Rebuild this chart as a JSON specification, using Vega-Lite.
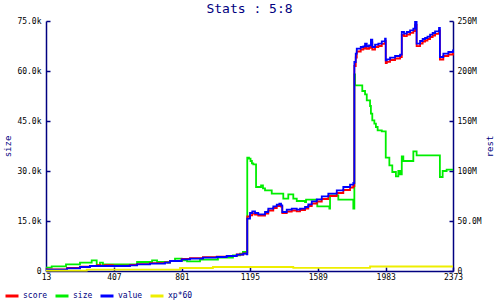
{
  "$schema": "https://vega.github.io/schema/vega-lite/v6.json",
  "width": 407,
  "height": 250,
  "autosize": {"type": "none"},
  "padding": {"left": 46, "top": 21, "right": 47, "bottom": 29},
  "background": "white",
  "title": {"text": "Stats : 5:8", "font": "DejaVu Sans Mono", "fontSize": 13, "fontWeight": "normal", "color": "#000080", "anchor": "middle", "offset": 1},
  "config": {
    "view": {"stroke": null},
    "axis": {"grid": false, "domainColor": "#000080", "domainWidth": 1.5, "tickColor": "#000080", "tickWidth": 1.5, "tickSize": -4, "labelFont": "DejaVu Sans Mono", "labelFontSize": 8, "labelColor": "#000000", "titleFont": "DejaVu Sans Mono", "titleFontSize": 9, "titleFontWeight": "normal", "titleColor": "#000080"},
    "legend": {"orient": "none", "legendX": -42, "legendY": 267, "direction": "horizontal", "columns": 4, "symbolType": "stroke", "symbolSize": 169, "symbolStrokeWidth": 3, "labelFont": "DejaVu Sans Mono", "labelFontSize": 8, "labelColor": "#000080", "labelOffset": 3, "columnPadding": 1, "title": null}
  },
  "datasets": {
    "size": [
      {"x":13,"v":1000},{"x":46,"v":1400},{"x":129,"v":2000},{"x":210,"v":2500},{"x":278,"v":3200},{"x":307,"v":1700},{"x":326,"v":2500},{"x":343,"v":2000},{"x":541,"v":2700},{"x":628,"v":3200},{"x":657,"v":2700},{"x":720,"v":2500},{"x":732,"v":3000},{"x":761,"v":3700},{"x":800,"v":3200},{"x":831,"v":2900},{"x":906,"v":3400},{"x":1010,"v":4000},{"x":1097,"v":4700},{"x":1138,"v":5200},{"x":1155,"v":5700},{"x":1180,"v":34000},{"x":1190,"v":33700},{"x":1199,"v":33000},{"x":1207,"v":32300},{"x":1215,"v":32000},{"x":1231,"v":25200},{"x":1260,"v":25700},{"x":1271,"v":24800},{"x":1283,"v":24200},{"x":1322,"v":23200},{"x":1389,"v":21700},{"x":1418,"v":23000},{"x":1447,"v":21700},{"x":1467,"v":21000},{"x":1515,"v":20700},{"x":1521,"v":21400},{"x":1583,"v":20400},{"x":1586,"v":19400},{"x":1656,"v":18700},{"x":1660,"v":22700},{"x":1708,"v":21400},{"x":1795,"v":18700},{"x":1801,"v":59000},{"x":1805,"v":55700},{"x":1847,"v":54000},{"x":1863,"v":53000},{"x":1873,"v":51200},{"x":1892,"v":49500},{"x":1897,"v":47200},{"x":1905,"v":45200},{"x":1917,"v":44200},{"x":1926,"v":43200},{"x":1936,"v":42200},{"x":1960,"v":41900},{"x":1983,"v":34000},{"x":2004,"v":31700},{"x":2021,"v":29700},{"x":2042,"v":28400},{"x":2056,"v":30000},{"x":2066,"v":29000},{"x":2076,"v":34400},{"x":2085,"v":33000},{"x":2143,"v":35900},{"x":2162,"v":34700},{"x":2297,"v":28200},{"x":2313,"v":30000},{"x":2336,"v":30400},{"x":2373,"v":30400}
    ],
    "rest": [
      {"s":"score","x":13,"v":1700000},{"s":"score","x":135,"v":3000000},{"s":"score","x":210,"v":4300000},{"s":"score","x":268,"v":5200000},{"s":"score","x":310,"v":5900000},{"s":"score","x":330,"v":5300000},{"s":"score","x":355,"v":5900000},{"s":"score","x":400,"v":5400000},{"s":"score","x":500,"v":6000000},{"s":"score","x":541,"v":6900000},{"s":"score","x":616,"v":7800000},{"s":"score","x":703,"v":8600000},{"s":"score","x":732,"v":10200000},{"s":"score","x":800,"v":12000000},{"s":"score","x":848,"v":12800000},{"s":"score","x":923,"v":13800000},{"s":"score","x":1003,"v":14300000},{"s":"score","x":1061,"v":15200000},{"s":"score","x":1119,"v":16500000},{"s":"score","x":1157,"v":17600000},{"s":"score","x":1177,"v":16900000},{"s":"score","x":1180,"v":54500000},{"s":"score","x":1196,"v":55700000},{"s":"score","x":1209,"v":57500000},{"s":"score","x":1225,"v":56500000},{"s":"score","x":1244,"v":55500000},{"s":"score","x":1283,"v":57500000},{"s":"score","x":1302,"v":60500000},{"s":"score","x":1331,"v":63000000},{"s":"score","x":1351,"v":65000000},{"s":"score","x":1366,"v":66000000},{"s":"score","x":1376,"v":64500000},{"s":"score","x":1383,"v":58000000},{"s":"score","x":1409,"v":59500000},{"s":"score","x":1438,"v":60500000},{"s":"score","x":1467,"v":59700000},{"s":"score","x":1486,"v":61000000},{"s":"score","x":1515,"v":62500000},{"s":"score","x":1534,"v":65000000},{"s":"score","x":1554,"v":67500000},{"s":"score","x":1583,"v":69500000},{"s":"score","x":1612,"v":72000000},{"s":"score","x":1650,"v":75000000},{"s":"score","x":1699,"v":78000000},{"s":"score","x":1737,"v":81000000},{"s":"score","x":1776,"v":83500000},{"s":"score","x":1795,"v":85000000},{"s":"score","x":1801,"v":205000000},{"s":"score","x":1809,"v":213500000},{"s":"score","x":1815,"v":219500000},{"s":"score","x":1838,"v":221500000},{"s":"score","x":1853,"v":222500000},{"s":"score","x":1863,"v":225000000},{"s":"score","x":1873,"v":222200000},{"s":"score","x":1886,"v":223200000},{"s":"score","x":1897,"v":228500000},{"s":"score","x":1905,"v":221500000},{"s":"score","x":1921,"v":224000000},{"s":"score","x":1940,"v":225000000},{"s":"score","x":1960,"v":227200000},{"s":"score","x":1979,"v":230000000},{"s":"score","x":1983,"v":208000000},{"s":"score","x":1989,"v":209200000},{"s":"score","x":2008,"v":211000000},{"s":"score","x":2037,"v":212500000},{"s":"score","x":2066,"v":214000000},{"s":"score","x":2076,"v":236000000},{"s":"score","x":2089,"v":234800000},{"s":"score","x":2105,"v":236500000},{"s":"score","x":2124,"v":238200000},{"s":"score","x":2143,"v":240000000},{"s":"score","x":2153,"v":246000000},{"s":"score","x":2162,"v":224800000},{"s":"score","x":2182,"v":227500000},{"s":"score","x":2197,"v":229500000},{"s":"score","x":2211,"v":230500000},{"s":"score","x":2225,"v":232000000},{"s":"score","x":2240,"v":234000000},{"s":"score","x":2255,"v":235500000},{"s":"score","x":2269,"v":237200000},{"s":"score","x":2292,"v":240500000},{"s":"score","x":2297,"v":211500000},{"s":"score","x":2317,"v":215000000},{"s":"score","x":2346,"v":216500000},{"s":"score","x":2373,"v":219000000},
      {"s":"value","x":13,"v":1400000},{"s":"value","x":135,"v":2700000},{"s":"value","x":210,"v":4000000},{"s":"value","x":268,"v":5000000},{"s":"value","x":500,"v":5700000},{"s":"value","x":541,"v":6700000},{"s":"value","x":616,"v":7400000},{"s":"value","x":703,"v":8400000},{"s":"value","x":732,"v":10000000},{"s":"value","x":800,"v":11700000},{"s":"value","x":848,"v":12400000},{"s":"value","x":923,"v":13400000},{"s":"value","x":1003,"v":14000000},{"s":"value","x":1061,"v":15000000},{"s":"value","x":1119,"v":16400000},{"s":"value","x":1157,"v":17400000},{"s":"value","x":1177,"v":16700000},{"s":"value","x":1180,"v":52400000},{"s":"value","x":1196,"v":58000000},{"s":"value","x":1209,"v":59700000},{"s":"value","x":1225,"v":58000000},{"s":"value","x":1244,"v":56700000},{"s":"value","x":1283,"v":59000000},{"s":"value","x":1302,"v":62400000},{"s":"value","x":1331,"v":64700000},{"s":"value","x":1351,"v":66400000},{"s":"value","x":1366,"v":67400000},{"s":"value","x":1376,"v":65700000},{"s":"value","x":1383,"v":59000000},{"s":"value","x":1409,"v":61400000},{"s":"value","x":1438,"v":62400000},{"s":"value","x":1467,"v":61400000},{"s":"value","x":1486,"v":62400000},{"s":"value","x":1515,"v":64000000},{"s":"value","x":1534,"v":66700000},{"s":"value","x":1554,"v":69700000},{"s":"value","x":1583,"v":71700000},{"s":"value","x":1612,"v":74700000},{"s":"value","x":1650,"v":77400000},{"s":"value","x":1699,"v":80700000},{"s":"value","x":1737,"v":84000000},{"s":"value","x":1776,"v":86400000},{"s":"value","x":1795,"v":88000000},{"s":"value","x":1801,"v":209000000},{"s":"value","x":1809,"v":217400000},{"s":"value","x":1815,"v":222400000},{"s":"value","x":1838,"v":224000000},{"s":"value","x":1853,"v":224700000},{"s":"value","x":1863,"v":227400000},{"s":"value","x":1873,"v":224700000},{"s":"value","x":1886,"v":225700000},{"s":"value","x":1897,"v":231400000},{"s":"value","x":1905,"v":224000000},{"s":"value","x":1921,"v":226400000},{"s":"value","x":1940,"v":227400000},{"s":"value","x":1960,"v":229700000},{"s":"value","x":1979,"v":232400000},{"s":"value","x":1983,"v":210700000},{"s":"value","x":1989,"v":211700000},{"s":"value","x":2008,"v":213400000},{"s":"value","x":2037,"v":215000000},{"s":"value","x":2066,"v":216400000},{"s":"value","x":2076,"v":239000000},{"s":"value","x":2089,"v":237400000},{"s":"value","x":2105,"v":239000000},{"s":"value","x":2124,"v":240700000},{"s":"value","x":2143,"v":242400000},{"s":"value","x":2153,"v":249000000},{"s":"value","x":2162,"v":227400000},{"s":"value","x":2182,"v":230000000},{"s":"value","x":2197,"v":232000000},{"s":"value","x":2211,"v":233000000},{"s":"value","x":2225,"v":234400000},{"s":"value","x":2240,"v":236400000},{"s":"value","x":2255,"v":238000000},{"s":"value","x":2269,"v":239700000},{"s":"value","x":2292,"v":243000000},{"s":"value","x":2297,"v":214000000},{"s":"value","x":2317,"v":217400000},{"s":"value","x":2346,"v":219000000},{"s":"value","x":2373,"v":221400000},
      {"s":"xp*60","x":13,"v":400000},{"s":"xp*60","x":249,"v":1400000},{"s":"xp*60","x":790,"v":3000000},{"s":"xp*60","x":981,"v":4000000},{"s":"xp*60","x":1447,"v":3200000},{"s":"xp*60","x":1892,"v":4500000},{"s":"xp*60","x":2373,"v":4500000}
    ]
  },
  "layer": [
    {
      "data": {"name": "size"},
      "mark": {"type": "line", "interpolate": "step-after", "strokeWidth": 1.8, "color": "#00ee00"},
      "encoding": {
        "x": {"field": "x", "type": "quantitative", "scale": {"domain": [13, 2373], "nice": false, "zero": false}, "axis": {"values": [13, 407, 801, 1195, 1589, 1983, 2373], "format": "d", "title": null, "labelPadding": 6, "labelFlush": false}},
        "y": {"field": "v", "type": "quantitative", "scale": {"domain": [0, 75000], "nice": false}, "axis": {"orient": "left", "title": "size", "values": [0, 15000, 30000, 45000, 60000, 75000], "labelExpr": "datum.value == 0 ? '0' : format(datum.value / 1000, '.3r') + 'k'", "labelPadding": 9, "titlePadding": 4}},
        "color": {"datum": "size", "type": "nominal", "scale": {"domain": ["score", "size", "value", "xp*60"], "range": ["#ff0000", "#00ee00", "#0000ff", "#eeee00"]}}
      }
    },
    {
      "data": {"name": "rest"},
      "mark": {"type": "line", "interpolate": "step-after", "strokeWidth": 1.8},
      "encoding": {
        "x": {"field": "x", "type": "quantitative", "scale": {"domain": [13, 2373], "nice": false, "zero": false}},
        "y": {"field": "v", "type": "quantitative", "scale": {"domain": [0, 250000000], "nice": false}, "axis": {"orient": "right", "title": "rest", "titleAngle": 270, "values": [0, 50000000, 100000000, 150000000, 200000000, 250000000], "labelExpr": "datum.value == 0 ? '0' : format(datum.value / 1000000, '.3r') + 'M'", "labelPadding": 8, "titlePadding": 13}},
        "color": {"field": "s", "type": "nominal", "scale": {"domain": ["score", "size", "value", "xp*60"], "range": ["#ff0000", "#00ee00", "#0000ff", "#eeee00"]}}
      }
    }
  ],
  "resolve": {"scale": {"y": "independent"}}
}
